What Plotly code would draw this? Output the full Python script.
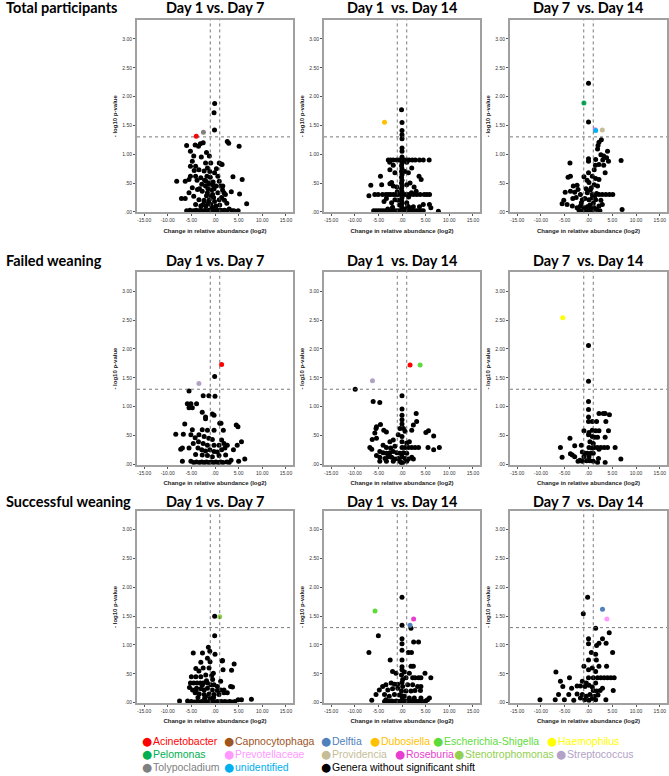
import plotly.graph_objects as go

# ---------------- DATA ----------------
# Black points: genera without significant shift, per panel (x = log2 change, y = -log10 p)
total_d1_d7_x = [-0.07, -0.2, -0.1, 2.6, 2.9, 5.1, 1.3, 3.8, 5.75, 3.45, 5.2, 6.7, 4.9,
                 1.2, 1.6, 1.9, 2.2, 1.4, 2.0, 2.5, 1.0, 3.0, 2.0, 1.5, 3.6,
                 -6.0, -4.2, -5.2, -3.1, -2.5, -3.5, -4.5, -4.8, -1.8, -1.2, 0.9, 1.5,
                 -5.2, -4.1, -3.4, -2.3, -1.6, -0.9, -0.1, 0.6, -5.2, -5.5, -6.3, -8.1,
                 -4.1, -3.0, -1.9, -1.2, -0.5, 0.2, 0.9, 1.65, -4.8, -3.7, -2.7, -1.6,
                 -0.5, 0.6, -5.5, -7.1, -6.3, -4.5, -3.4, -2.3, -1.2, -0.1, 0.9, -4.1,
                 -3.0, -1.9, -0.9, 0.2,
                 -6.0, -5.3, -4.6, -4.0, -3.5, -3.0, -2.5, -2.0, -1.6, -1.2, -0.8, -0.4,
                 0.0, 0.4, 0.8, 1.2, 2.5, 4.0,
                 -2.0, -1.5, -2.2, -1.0, -0.7, -1.8, -2.8, -0.3, -2.6, -1.4, -0.6, -3.3,
                 -1.1, -2.0, -3.8, -0.4, 0.3, -2.9, -4.4, -1.3, -1.7, -0.8, -2.3, -0.2]
total_d1_d7_y = [1.88, 1.72, 1.42, 1.22, 1.19, 1.14, 0.83, 0.61, 0.56, 0.35, 0.31, 0.14, 0.02,
                 0.45, 0.38, 0.33, 0.30, 0.25, 0.20, 0.15, 0.12, 0.05, 0.03, 0.02, 0.02,
                 1.15, 1.16, 1.05, 1.18, 1.20, 1.14, 0.97, 0.88, 1.03, 0.97, 0.85, 0.82,
                 0.79, 0.79, 0.73, 0.71, 0.76, 0.85, 0.68, 0.62, 0.62, 0.56, 0.53, 0.53,
                 0.62, 0.59, 0.53, 0.50, 0.47, 0.45, 0.53, 0.45, 0.42, 0.39, 0.36, 0.33,
                 0.30, 0.33, 0.33, 0.23, 0.23, 0.27, 0.21, 0.18, 0.21, 0.18, 0.21, 0.13,
                 0.10, 0.10, 0.13, 0.10,
                 0.02, 0.03, 0.02, 0.03, 0.02, 0.03, 0.02, 0.03, 0.02, 0.03, 0.02, 0.03,
                 0.02, 0.03, 0.02, 0.03, 0.02, 0.02,
                 0.45, 0.40, 0.55, 0.60, 0.38, 0.28, 0.48, 0.25, 0.12, 0.15, 0.08, 0.40,
                 0.70, 0.85, 0.55, 0.52, 0.75, 0.95, 0.72, 0.48, 0.62, 0.28, 0.20, 0.40]

total_d1_d14_x = [-0.1, 0.0, 0.0, 0.0, 0.0, 0.0, 0.0,
                  0.0, -0.1, 0.0, -0.1, 0.0, -0.1, 0.0, -0.1, 0.0, -0.1, 0.0, -0.1, 0.0, -0.1,
                  0.0, -0.1, 0.0, -0.1, 0.0,
                  -2.9, -2.4, -1.85, -1.1, -0.64, 0.5, 1.0, 1.5, 2.2, 2.8, 3.7, 4.5, 5.75,
                  -2.6, 1.0, -1.85, -2.56, -1.5, 0.64, 1.35, 2.06, -4.55, 3.6, 4.05, -6.6,
                  -4.3, -2.56, -2.2, -1.85, -1.1, 1.0, 1.7, 2.56, 3.0, -7.0,
                  -5.76, -5.05, -4.12, -3.41, -2.91, -2.42, -1.85, -1.28, -0.78, 0.64, 1.21,
                  1.71, 2.42, 3.13, 3.84, 4.69, 5.26, 5.83,
                  -3.8, -3.3, -2.2, -1.5, -0.8, 1.0, 1.7, 2.4, 3.7, 4.5, 5.8, 6.1,
                  -6.0, -5.5, -5.0, -4.5, -4.0, -3.5, -3.0, -2.5, -2.0, -1.5, -1.0, -0.5,
                  0.5, 1.0, 1.5, 2.0, 2.5, 3.0, 3.5, 4.0, 4.5, 7.7,
                  -0.5, 0.6, 1.2, -1.0, 1.4, 2.0, -3.0, -2.0]
total_d1_d14_y = [1.77, 1.55, 1.41, 1.34, 1.27, 1.11, 1.05,
                  0.95, 0.90, 0.85, 0.80, 0.75, 0.70, 0.65, 0.60, 0.55, 0.50, 0.45, 0.40,
                  0.35, 0.30, 0.25, 0.20, 0.15, 0.10, 0.05,
                  0.90, 0.90, 0.90, 0.90, 0.90, 0.90, 0.90, 0.90, 0.90, 0.90, 0.90, 0.90, 0.90,
                  0.86, 0.86, 0.81, 0.73, 0.68, 0.70, 0.68, 0.76, 0.62, 0.62, 0.56, 0.46,
                  0.47, 0.49, 0.51, 0.45, 0.43, 0.47, 0.50, 0.43, 0.36, 0.28,
                  0.30, 0.30, 0.30, 0.30, 0.30, 0.30, 0.30, 0.30, 0.30, 0.30, 0.30,
                  0.30, 0.30, 0.30, 0.30, 0.30, 0.30, 0.30,
                  0.18, 0.23, 0.16, 0.21, 0.20, 0.16, 0.07, 0.09, 0.09, 0.13, 0.13, 0.07,
                  0.02, 0.02, 0.02, 0.02, 0.02, 0.02, 0.02, 0.02, 0.02, 0.02, 0.02, 0.02,
                  0.02, 0.02, 0.02, 0.02, 0.02, 0.02, 0.02, 0.02, 0.02, 0.01,
                  0.12, 0.05, 0.10, 0.35, 0.26, 0.33, 0.05, 0.08]

total_d7_d14_x = [0.0, 0.0,
                  2.7, 2.2, 2.0, 1.9, 4.0, 2.6, 3.2, 3.8, 1.5, 3.0, 6.85, 4.2, 0.0, 0.0,
                  -3.9, 0.0, 1.45, 2.2, 3.2, 1.2, 3.5, -4.3, -3.8, -0.96, 0.8, 1.5, 2.2,
                  0.1, 1.2, 1.9, -3.2, -2.4, -4.9, -3.8, -2.9, -2.2, -1.7, -0.25, 0.8, 1.7,
                  2.2, 2.9, 3.65, 4.4, 5.1, -3.3, -2.6, -1.3, -0.75, 0.1, 0.8, 1.5, -5.2,
                  -5.55, -4.5, -3.4, -2.4, -1.7, -0.96, -0.25, 0.46, 1.2, 2.2, 2.9, 7.06,
                  -2.0, -1.3, -0.6, 0.1, 0.8, 1.7, 2.4,
                  -0.5, 0.4, 1.0, -1.5, 0.3, 1.3, -0.3, 2.6, 0.6]
total_d7_d14_y = [2.23, 1.56,
                  1.25, 1.21, 1.15, 1.09, 1.05, 0.99, 0.97, 0.94, 0.91, 0.90, 0.89, 0.88,
                  0.92, 0.88, 0.85, 0.68, 0.81, 0.82, 0.81, 0.73, 0.68, 0.60, 0.62, 0.61,
                  0.62, 0.58, 0.56, 0.51, 0.47, 0.45, 0.45, 0.46, 0.34, 0.36, 0.34, 0.39,
                  0.30, 0.33, 0.30, 0.32, 0.30, 0.30, 0.30, 0.30, 0.30, 0.23, 0.25, 0.21,
                  0.23, 0.21, 0.24, 0.21, 0.20, 0.14, 0.13, 0.10, 0.07, 0.10, 0.07, 0.09,
                  0.05, 0.07, 0.10, 0.13, 0.04,
                  0.03, 0.02, 0.02, 0.03, 0.02, 0.04, 0.02,
                  0.40, 0.38, 0.15, 0.16, 0.12, 0.27, 0.55, 0.20, 0.42]

failed_d1_d7_x = [-0.07,
                  -5.5, -2.5, -1.3, 0.0, -5.85, -5.1, -3.9, -5.5, -4.8, -2.7, -2.0, -0.56,
                  -0.2, -2.0, -6.4, 1.0, -4.8, -2.7, -1.6, -0.2, -8.3, -6.7, -5.1, -4.2,
                  -3.4, -2.3, -1.3, -0.56, 1.4, -4.6, -3.5, -2.5, -1.6, -0.2, 0.85, 1.9,
                  -7.25, -6.9, -5.5, -3.6, -2.8, -2.0, -1.1, -0.2, 0.5, 1.4, 2.1, -4.1,
                  -2.7, -1.6, -0.56, 0.85, -6.9, -5.1,
                  4.86, 4.5, 1.76, 1.27, 5.6, 4.7, 2.6, 3.9, 6.3, 5.0, 3.4, 2.25,
                  -4.5, -3.9, -3.3, -2.8, -2.3, -1.8, -1.3, -0.8, -0.3, 0.2, 0.7, 1.2,
                  1.7, 2.5, 3.0]
failed_d1_d7_y = [1.52,
                  1.27, 1.19, 1.19, 1.18, 1.05, 1.05, 1.05, 0.98, 0.98, 0.90, 0.82, 0.87,
                  0.85, 0.79, 0.70, 0.71, 0.60, 0.60, 0.59, 0.59, 0.52, 0.52, 0.51, 0.46,
                  0.51, 0.48, 0.45, 0.43, 0.42, 0.36, 0.39, 0.36, 0.33, 0.33, 0.33, 0.36,
                  0.26, 0.28, 0.28, 0.28, 0.25, 0.23, 0.25, 0.22, 0.21, 0.25, 0.28, 0.17,
                  0.16, 0.15, 0.13, 0.15, 0.05, 0.05,
                  0.65, 0.68, 0.59, 0.71, 0.39, 0.33, 0.33, 0.25, 0.09, 0.05, 0.07, 0.16,
                  0.03, 0.04, 0.03, 0.04, 0.03, 0.04, 0.03, 0.04, 0.03, 0.04, 0.03, 0.04,
                  0.03, 0.04, 0.03]

failed_d1_d14_x = [-9.9, -6.1, -4.7, 0.0, 0.0, 0.0, 0.0, 3.0, 3.1, 2.4, 2.06, 5.6, 5.05,
                   6.7, 5.5, 7.9, 6.7, -4.55, -5.4, -5.5, -3.85, -3.3, -5.75, -6.3, -5.4,
                   -0.43, 0.3, 0.64, -0.8, -2.56, -1.85, 0.0, 1.0, 1.56, -6.8, -6.4, -4.0,
                   -3.3, -2.4, -1.5, 0.0, 0.64, 1.35, 2.06, 2.77, 3.5, -4.7, -4.0, -3.3,
                   -2.56, -1.85, -1.1, -0.43, 0.3, 1.0, -5.4, -4.7, -3.6, -2.9, -2.2, -1.5,
                   -0.8, 0.0, 0.64, 1.35, 2.06, -4.7, -3.3, -1.85, -0.43, 1.0, 2.4,
                   0.0, 0.0, -0.2, 0.1]
failed_d1_d14_y = [1.30, 1.09, 1.07, 1.19, 0.96, 0.85, 0.77, 0.88, 0.74, 0.68, 0.59, 0.58, 0.55,
                   0.49, 0.29, 0.29, 0.25, 0.69, 0.65, 0.62, 0.59, 0.56, 0.54, 0.43, 0.45,
                   0.62, 0.62, 0.57, 0.51, 0.39, 0.42, 0.39, 0.37, 0.39, 0.29, 0.26, 0.33,
                   0.29, 0.28, 0.31, 0.29, 0.29, 0.29, 0.29, 0.29, 0.29, 0.22, 0.20, 0.19,
                   0.20, 0.22, 0.20, 0.19, 0.20, 0.19, 0.15, 0.12, 0.10, 0.13, 0.12, 0.09,
                   0.10, 0.13, 0.10, 0.09, 0.12, 0.05, 0.05, 0.05, 0.05, 0.05, 0.09,
                   0.70, 0.48, 0.03, 0.02]

failed_d7_d14_x = [0.0, 0.0, 0.0, 0.0, 0.0, 0.0, 0.8, 1.7, 2.2, 3.1, 3.5, 4.4, 3.65,
                   -0.96, 0.1, 0.8, 1.5, 2.2, 4.2, 0.8, 1.3, 1.9, 3.5, 0.0, -3.9, 0.3, 1.0,
                   -1.5, -2.9, 0.1, 0.8, 1.3, 1.9, 2.6, 3.3, 4.0, 5.6, -5.9, 2.2, -3.8,
                   -3.4, -2.9, -1.3, -0.75, -0.25, 0.46, 1.0, -5.55, -0.96, 0.1, -1.8,
                   -2.2, -1.3, -0.4, 0.3, 1.0, 2.1, 1.9, 3.5, 6.8]
failed_d7_d14_y = [2.06, 1.44, 1.09, 0.95, 0.82, 0.74, 0.74, 0.74, 0.88, 0.88, 0.88, 0.86, 0.74,
                   0.58, 0.55, 0.59, 0.58, 0.58, 0.58, 0.48, 0.47, 0.47, 0.47, 0.51, 0.45, 0.39, 0.36,
                   0.33, 0.32, 0.29, 0.28, 0.29, 0.29, 0.29, 0.29, 0.29, 0.29, 0.29, 0.26, 0.18,
                   0.16, 0.13, 0.21, 0.19, 0.19, 0.19, 0.19, 0.12, 0.13, 0.13, 0.07,
                   0.05, 0.05, 0.06, 0.06, 0.05, 0.10, 0.03, 0.03, 0.09]

success_d1_d7_x = [-0.07,
                   -0.07, -1.4, -1.1, -4.6, -2.65, 0.0, 1.5, -1.6, -1.05, -3.0, -2.5, -1.26,
                   -4.05, -0.35, -5.0, -4.05, -3.0, -1.95, -0.7, 1.2, -5.2, -4.5, -3.8, -3.1,
                   -2.5, -1.6, -0.9, -0.2, 0.5, -5.4, -4.75, -3.9, -3.0, -2.3, -1.6, -0.56,
                   0.5, 1.2, -4.2, -3.35, -2.3, -1.26, -0.2, 0.84, 1.9, -7.5, -5.8,
                   1.6, 1.7, 4.05, 3.5, 3.3, 3.7, 4.9, 5.6, 7.7, 2.6, 1.9,
                   -5.0, -4.4, -3.8, -3.3, -2.8, -2.3, -1.9, -1.5, -1.1, -0.7, -0.3, 0.1,
                   0.5, 0.9, 1.3, 1.7, 2.1, 2.6, 3.1, 3.6, 4.2,
                   -3.6, -2.0, -1.0, -2.7, -0.5, -3.4, -1.8, -0.3, -2.2, -4.0]
success_d1_d7_y = [1.50,
                   1.16, 0.96, 0.89, 0.86, 0.86, 0.84, 0.72, 0.77, 0.71, 0.70, 0.60, 0.60,
                   0.59, 0.51, 0.45, 0.45, 0.45, 0.48, 0.47, 0.37, 0.34, 0.34, 0.34, 0.34,
                   0.34, 0.34, 0.31, 0.31, 0.28, 0.26, 0.22, 0.25, 0.24, 0.22, 0.25, 0.22,
                   0.21, 0.22, 0.17, 0.15, 0.14, 0.15, 0.14, 0.14, 0.17, 0.03, 0.03,
                   0.73, 0.57, 0.67, 0.56, 0.28, 0.27, 0.05, 0.05, 0.06, 0.17, 0.22,
                   0.02, 0.01, 0.02, 0.01, 0.02, 0.01, 0.02, 0.01, 0.02, 0.01, 0.02, 0.01,
                   0.02, 0.01, 0.02, 0.01, 0.02, 0.01, 0.02, 0.01, 0.02,
                   0.09, 0.10, 0.08, 0.30, 0.40, 0.55, 0.38, 0.09, 0.07, 0.20]

success_d1_d14_x = [0.0, 0.0, 1.9, 0.0, 0.0, -5.0, -7.0, 2.46, 3.5, 1.34, 2.0, 0.0, 0.0,
                    -2.5, 1.9, 2.4, 4.86, 6.1, -2.0, -1.27, 0.0, 0.5, 1.55, 2.75, 3.5, 4.0,
                    2.25, 0.85, 0.14, -2.3, -1.6, -0.9, -3.4, -4.1, -4.8, -5.5, -3.0, -2.0,
                    -0.9, 0.14, 1.2, 2.25, 3.3, 4.0, 0.85, 1.9, 2.75, 3.9, -3.7, -2.7, -1.6,
                    -0.56, 0.5, 1.55, 2.6, 4.0, 5.4, 5.8, -6.4, -3.4,
                    -3.7, -3.2, -2.7, -2.2, -1.7, -1.2, -0.7, -0.2, 0.3, 0.8, 1.3, 1.8,
                    2.3, 2.8, 3.3, 3.8, 4.3, 5.0,
                    0.0, -0.1, 0.0, -0.1, 0.0, 0.1]
success_d1_d14_y = [1.83, 1.34, 1.29, 1.11, 1.02, 1.16, 0.87, 1.05, 1.05, 0.87, 0.87, 0.91, 0.74,
                    0.74, 0.63, 0.63, 0.51, 0.43, 0.54, 0.51, 0.57, 0.53, 0.51, 0.43, 0.43, 0.43,
                    0.43, 0.43, 0.40, 0.34, 0.32, 0.32, 0.31, 0.28, 0.22, 0.14, 0.22, 0.24,
                    0.25, 0.28, 0.31, 0.31, 0.28, 0.28, 0.20, 0.20, 0.21, 0.21, 0.14, 0.11, 0.14,
                    0.13, 0.11, 0.08, 0.08, 0.08, 0.05, 0.08, 0.04, 0.05,
                    0.02, 0.03, 0.02, 0.03, 0.02, 0.03, 0.02, 0.03, 0.02, 0.03, 0.02, 0.03,
                    0.02, 0.03, 0.02, 0.03, 0.02, 0.03,
                    0.62, 0.48, 0.35, 0.20, 0.12, 0.08]

success_d7_d14_x = [-0.18, -1.1, 1.5, 0.0, 0.0, 4.36, 2.94, 3.7, 2.2, 1.7, 0.6, 1.5, 5.07,
                    0.0, 1.65, 2.2, 3.8, -0.96, 0.8, -6.85, 0.0, 1.5, 0.0, 1.0, 1.9, 2.6,
                    3.3, 4.0, 4.7, 5.4, -4.0, -5.9, -1.3, -0.46, 1.5, -5.4, -2.4, -1.7,
                    -0.75, 0.1, 0.8, 2.94, -3.55, 1.0, 1.7, 2.45, 5.2, -6.3, -4.15, -2.4,
                    -1.3, -0.46, 0.3, 1.2, 2.0, -10.2, -7.0, -5.07, -3.1, -1.7, -0.8, 0.1,
                    0.8, 1.5, 3.65]
success_d7_d14_y = [1.83, 1.54, 1.29, 1.11, 1.02, 1.21, 1.11, 1.03, 1.03, 0.99, 0.87, 0.84, 0.87,
                    0.74, 0.74, 0.63, 0.63, 0.63, 0.60, 0.53, 0.57, 0.54, 0.43, 0.43, 0.43, 0.43,
                    0.43, 0.43, 0.43, 0.43, 0.43, 0.37, 0.37, 0.34, 0.34, 0.28, 0.29, 0.29,
                    0.28, 0.30, 0.27, 0.25, 0.25, 0.21, 0.20, 0.21, 0.21, 0.14, 0.14, 0.15,
                    0.14, 0.11, 0.14, 0.11, 0.13, 0.05, 0.05, 0.05, 0.04, 0.08, 0.05, 0.04,
                    0.07, 0.05, 0.05]

# Significant genera (coloured points)
sig_panel = ["total_d1_d7", "total_d1_d7",
             "total_d1_d14",
             "total_d7_d14", "total_d7_d14", "total_d7_d14", "total_d7_d14",
             "failed_d1_d7", "failed_d1_d7",
             "failed_d1_d14", "failed_d1_d14", "failed_d1_d14",
             "failed_d7_d14",
             "success_d1_d7",
             "success_d1_d14", "success_d1_d14", "success_d1_d14",
             "success_d7_d14", "success_d7_d14"]
sig_genus = ["Acinetobacter", "Tolypocladium",
             "Dubosiella",
             "Pelomonas", "Prevotellaceae", "unidentified", "Providencia",
             "Acinetobacter", "Streptococcus",
             "Acinetobacter", "Escherichia-Shigella", "Streptococcus",
             "Haemophilus",
             "Stenotrophomonas",
             "Escherichia-Shigella", "Roseburia", "Delftia",
             "Delftia", "Prevotellaceae"]
sig_x = [-3.96, -2.45, -3.7, -0.96, 1.38, 1.5, 2.9, 1.4, -3.4, 1.7, 3.84, -6.25, -5.4,
         1.0, -5.7, 2.46, 1.7, 2.94, 3.87]
sig_y = [1.31, 1.38, 1.555, 1.89, 1.43, 1.41, 1.42, 1.73, 1.40, 1.72, 1.72, 1.45, 2.54,
         1.49, 1.59, 1.45, 1.34, 1.62, 1.45]

# Legend entries
legend_names = ["Acinetobacter", "Capnocytophaga", "Delftia", "Dubosiella", "Escherichia-Shigella",
                "Haemophilus", "Pelomonas", "Prevotellaceae", "Providencia", "Roseburia",
                "Stenotrophomonas", "Streptococcus", "Tolypocladium", "unidentified",
                "Genera without significant shift"]
legend_colors = ["#FF0000", "#A0541E", "#4F81BD", "#FFC000", "#5EDB3C",
                 "#FFFF00", "#00B050", "#FF99FF", "#C4BD97", "#E83ECF",
                 "#92D050", "#B3A2C7", "#808080", "#00B0F0", "#000000"]

row_titles = ["Total participants", "Failed weaning", "Successful weaning"]
col_titles = ["Day 1 vs. Day 7", "Day 1\u00a0 vs. Day 14", "Day 7\u00a0 vs. Day 14"]

x_tick_vals = [-15, -10, -5, 0, 5, 10, 15]
x_tick_text = ["-15.00", "-10.00", "-5.00", ".00", "5.00", "10.00", "15.00"]
y_tick_vals = [0, 0.5, 1.0, 1.5, 2.0, 2.5, 3.0]
y_tick_text = [".00", ".50", "1.00", "1.50", "2.00", "2.50", "3.00"]

FC_THRESHOLD = 1.0
P_THRESHOLD = 1.30103  # -log10(0.05)

# ---------------- LAYOUT ----------------
W, H = 669, 776
col_px = [(137, 293), (324, 480), (510, 667)]
row_px = [(20, 213), (273, 466), (512, 705)]
title_y_px = [8, 261, 503]

panels = [
    ("total_d1_d7", total_d1_d7_x, total_d1_d7_y),
    ("total_d1_d14", total_d1_d14_x, total_d1_d14_y),
    ("total_d7_d14", total_d7_d14_x, total_d7_d14_y),
    ("failed_d1_d7", failed_d1_d7_x, failed_d1_d7_y),
    ("failed_d1_d14", failed_d1_d14_x, failed_d1_d14_y),
    ("failed_d7_d14", failed_d7_d14_x, failed_d7_d14_y),
    ("success_d1_d7", success_d1_d7_x, success_d1_d7_y),
    ("success_d1_d14", success_d1_d14_x, success_d1_d14_y),
    ("success_d7_d14", success_d7_d14_x, success_d7_d14_y),
]
color_of = dict(zip(legend_names, legend_colors))

fig = go.Figure()
layout_axes = {}
shapes = []
FONT = "Liberation Sans, Arial, sans-serif"

for i, (key, xs, ys) in enumerate(panels):
    r, c = divmod(i, 3)
    sfx = "" if i == 0 else str(i + 1)
    xa, ya = "x" + sfx, "y" + sfx
    fig.add_trace(go.Scatter(x=xs, y=ys, mode="markers", xaxis=xa, yaxis=ya,
                             marker=dict(color="black", size=5), showlegend=False,
                             hoverinfo="skip"))
    for p, g, sx, sy in zip(sig_panel, sig_genus, sig_x, sig_y):
        if p == key:
            fig.add_trace(go.Scatter(x=[sx], y=[sy], mode="markers", xaxis=xa, yaxis=ya,
                                     marker=dict(color=color_of[g], size=5),
                                     showlegend=False, name=g))
    x0, x1 = col_px[c]
    y0, y1 = row_px[r]
    layout_axes["xaxis" + sfx] = dict(
        domain=[x0 / W, x1 / W], anchor=ya, range=[-16.5, 16.5],
        tickvals=x_tick_vals, ticktext=x_tick_text, ticks="outside", ticklen=2,
        tickcolor="#555", tickfont=dict(size=5, family=FONT, color="#333"),
        showline=True, mirror=True, linecolor="#a0a0a0", linewidth=2,
        showgrid=False, zeroline=False,
        title=dict(text="<b>Change in relative abundance (log2)</b>",
                   font=dict(size=6, family=FONT, color="#222"), standoff=6))
    layout_axes["yaxis" + sfx] = dict(
        domain=[1 - y1 / H, 1 - y0 / H], anchor=xa, range=[-0.01, 3.33],
        tickvals=y_tick_vals, ticktext=y_tick_text, ticks="outside", ticklen=2,
        tickcolor="#555", tickfont=dict(size=5, family=FONT, color="#333"),
        showline=True, mirror=True, linecolor="#a0a0a0", linewidth=2,
        showgrid=False, zeroline=False,
        title=dict(text="<b>- log10 p-value</b>",
                   font=dict(size=6, family=FONT, color="#222"), standoff=4))
    for xv in (-FC_THRESHOLD, FC_THRESHOLD):
        shapes.append(dict(type="line", xref=xa, yref=ya + " domain", x0=xv, x1=xv,
                           y0=0, y1=1, line=dict(color="#555", width=0.8, dash="dot")))
    shapes.append(dict(type="line", xref=xa + " domain", yref=ya, x0=0, x1=1,
                       y0=P_THRESHOLD, y1=P_THRESHOLD,
                       line=dict(color="#555", width=0.8, dash="dot")))

annotations = []
TFONT = "Lato, Open Sans, sans-serif"
for r, t in enumerate(row_titles):
    annotations.append(dict(text="<b>%s</b>" % t, x=4 / W, y=1 - title_y_px[r] / H,
                            xref="paper", yref="paper", xanchor="left", yanchor="middle",
                            showarrow=False, font=dict(size=14.5, family=TFONT, color="black")))
    for c, ct in enumerate(col_titles):
        cx = (col_px[c][0] + col_px[c][1]) / 2
        annotations.append(dict(text="<b>%s</b>" % ct, x=cx / W, y=1 - title_y_px[r] / H,
                                xref="paper", yref="paper", xanchor="center", yanchor="middle",
                                showarrow=False, font=dict(size=14.5, family=TFONT, color="black")))

# legend layout (circle x, row y) in pixels
legend_circle_x = [147, 229, 326, 375, 438, 552,
                   147, 229, 326, 400, 459, 561,
                   147, 229, 326]
legend_row_y = [743, 743, 743, 743, 743, 743,
                756, 756, 756, 756, 756, 756,
                769, 769, 769]
for name, col, cxp, cyp in zip(legend_names, legend_colors, legend_circle_x, legend_row_y):
    annotations.append(dict(text="\u25CF", x=cxp / W, y=1 - cyp / H, xref="paper", yref="paper",
                            xanchor="center", yanchor="middle", showarrow=False, borderpad=0,
                            font=dict(size=11.5, family="DejaVu Sans", color=col)))
    annotations.append(dict(text=name, x=(cxp + 5) / W, y=1 - cyp / H, xref="paper", yref="paper",
                            xanchor="left", yanchor="middle", showarrow=False, borderpad=0,
                            font=dict(size=10.5, family=FONT, color=col)))

fig.update_layout(width=W, height=H, margin=dict(l=0, r=0, t=0, b=0),
                  paper_bgcolor="white", plot_bgcolor="white", showlegend=False,
                  shapes=shapes, annotations=annotations, **layout_axes)
fig.write_html("out.html", config={"displayModeBar": False},
               post_script="document.body.style.margin='0px';")
